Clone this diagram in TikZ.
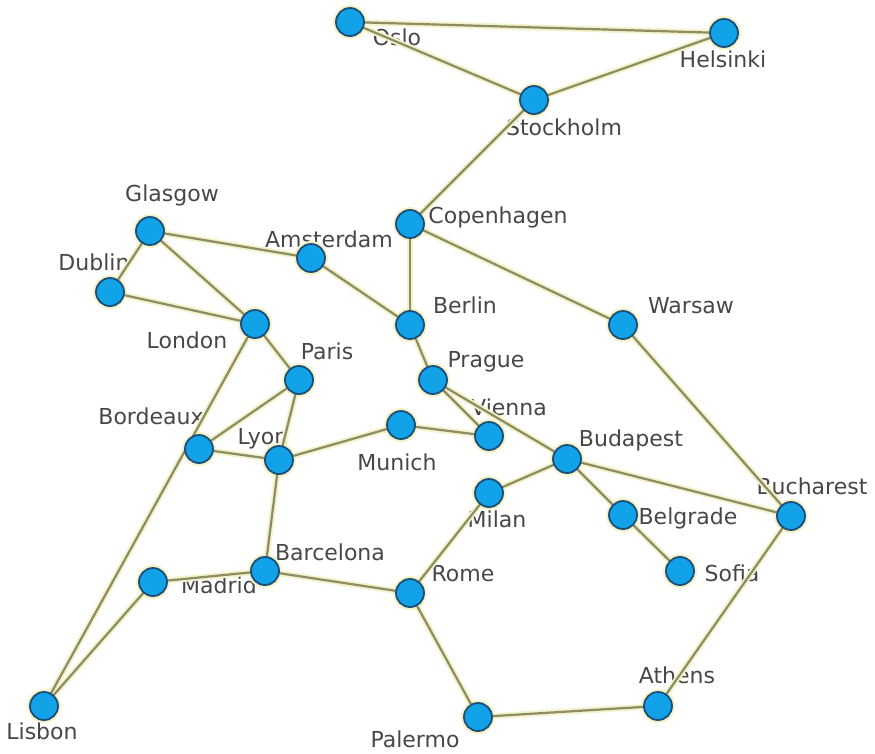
\documentclass[tikz,border=0pt]{standalone}
\usepackage{fontspec}
\setmainfont{DejaVu Sans}
\definecolor{citybl}{HTML}{12A2E8}
\definecolor{citybd}{HTML}{1B4F7A}
\definecolor{road}{HTML}{8C8C66}
\definecolor{roadglow}{HTML}{F4F2C8}
\definecolor{lbl}{HTML}{474747}
\begin{document}
\begin{tikzpicture}[x=1pt,y=-1pt,
  city/.style={circle,fill=citybl,draw=citybd,line width=1.8pt,minimum size=28pt,inner sep=0pt},
  cityhalo/.style={circle,fill=roadglow,minimum size=34pt,inner sep=0pt},
  lab/.style={text=lbl,font=\fontsize{22}{24}\selectfont,inner sep=0pt},
  roadglow/.style={draw=roadglow,line width=6pt},
  roadline/.style={draw=road,line width=2.2pt}]
\useasboundingbox (0,0) rectangle (875,753);
% city positions
\coordinate (Oslo) at (350,22);
\coordinate (Helsinki) at (724,33);
\coordinate (Stockholm) at (534,100);
\coordinate (Copenhagen) at (410,224);
\coordinate (Glasgow) at (150,231);
\coordinate (Amsterdam) at (311,258);
\coordinate (Dublin) at (110,292);
\coordinate (London) at (255,324);
\coordinate (Berlin) at (410,325);
\coordinate (Warsaw) at (623,325);
\coordinate (Paris) at (299,380);
\coordinate (Prague) at (433,380);
\coordinate (Vienna) at (489,436);
\coordinate (Munich) at (401,425);
\coordinate (Bordeaux) at (199,449);
\coordinate (Lyon) at (279,460);
\coordinate (Budapest) at (567,459);
\coordinate (Milan) at (489,493);
\coordinate (Belgrade) at (623,515);
\coordinate (Bucharest) at (791,516);
\coordinate (Sofia) at (680,571);
\coordinate (Madrid) at (153,582);
\coordinate (Barcelona) at (265,571);
\coordinate (Rome) at (410,593);
\coordinate (Athens) at (658,706);
\coordinate (Palermo) at (478,717);
\coordinate (Lisbon) at (44,706);
% labels
\node[lab] (tOslo) at (397,37) {Oslo};
\node[lab] (tHelsinki) at (723,59) {Helsinki};
\node[lab] (tStockholm) at (564,127) {Stockholm};
\node[lab] (tCopenhagen) at (498,217) {Copenhagen};
\node[lab] (tGlasgow) at (172,195) {Glasgow};
\node[lab] (tAmsterdam) at (329,239) {Amsterdam};
\node[lab] (tDublin) at (94,262) {Dublin};
\node[lab] (tLondon) at (187,340) {London};
\node[lab] (tBerlin) at (465,305) {Berlin};
\node[lab] (tWarsaw) at (691,306) {Warsaw};
\node[lab] (tParis) at (327,351) {Paris};
\node[lab] (tPrague) at (486,362) {Prague};
\node[lab] (tVienna) at (509,407) {Vienna};
\node[lab] (tMunich) at (397,462) {Munich};
\node[lab] (tBordeaux) at (151,416) {Bordeaux};
\node[lab] (tLyon) at (263,439) {Lyon};
\node[lab] (tBudapest) at (631,440) {Budapest};
\node[lab] (tMilan) at (497,519) {Milan};
\node[lab] (tBelgrade) at (688,518) {Belgrade};
\node[lab] (tBucharest) at (812,486) {Bucharest};
\node[lab] (tSofia) at (732,573) {Sofia};
\node[lab] (tMadrid) at (219,585) {Madrid};
\node[lab] (tBarcelona) at (330,552) {Barcelona};
\node[lab] (tRome) at (463,574) {Rome};
\node[lab] (tAthens) at (677,675) {Athens};
\node[lab] (tPalermo) at (415,739) {Palermo};
\node[lab] (tLisbon) at (42,731) {Lisbon};
% roads
\def\roadlist{Oslo/Helsinki,Oslo/Stockholm,Helsinki/Stockholm,Stockholm/Copenhagen,
  Copenhagen/Berlin,Copenhagen/Warsaw,Warsaw/Bucharest,Glasgow/Amsterdam,Glasgow/Dublin,
  Glasgow/London,Dublin/London,Amsterdam/Berlin,London/Paris,London/Lisbon,Paris/Bordeaux,
  Paris/Lyon,Bordeaux/Lyon,Lyon/Munich,Munich/Vienna,Lyon/Barcelona,Barcelona/Madrid,
  Madrid/Lisbon,Barcelona/Rome,Rome/Milan,Milan/Budapest,Rome/Palermo,Palermo/Athens,
  Athens/Bucharest,Bucharest/Budapest,Budapest/Belgrade,Belgrade/Sofia,Berlin/Prague,
  Prague/Vienna,Prague/Budapest}
\def\citylist{Oslo,Helsinki,Stockholm,Copenhagen,Glasgow,Amsterdam,Dublin,London,Berlin,
  Warsaw,Paris,Prague,Vienna,Munich,Bordeaux,Lyon,Budapest,Milan,Belgrade,Bucharest,Sofia,
  Madrid,Barcelona,Rome,Athens,Palermo,Lisbon}
\foreach \a/\b in \roadlist { \draw[roadglow] (\a) -- (\b); }
\foreach \c in \citylist { \node[cityhalo] (h\c) at (\c) {}; }
\foreach \a/\b in \roadlist { \draw[roadline] (\a) -- (\b); }
% cities
\foreach \c in \citylist { \node[city] (n\c) at (\c) {}; }
\end{tikzpicture}
\end{document}
